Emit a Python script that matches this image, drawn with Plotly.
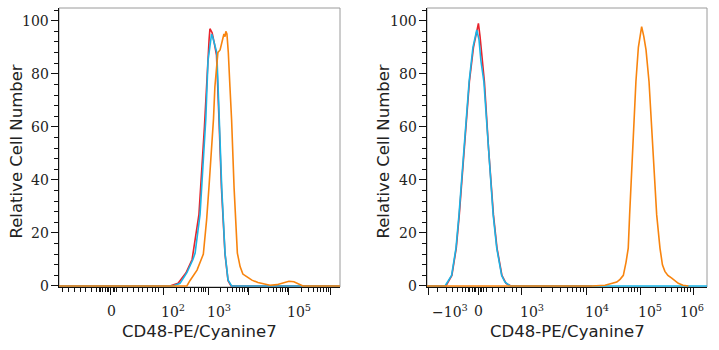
import numpy as np
import plotly.graph_objects as go

# ---------------- data (x in display channels 0-1024, y = relative cell number %) -------------
# Left panel
L_red_x = [0, 404, 434, 463, 485, 510, 530, 541, 547, 550, 554, 558, 565, 574, 583, 592, 605, 616, 627, 1024]
L_red_y = [0, 0, 1, 5, 10, 27, 60, 85, 93, 97, 96, 95.5, 92, 87, 63, 37, 12, 2, 0, 0]
L_blue_x = [0, 415, 441, 466, 488, 496, 514, 520, 532, 535, 543, 547, 552, 556, 561, 565, 575, 584, 593, 605, 616, 629, 1024]
L_blue_y = [0, 0, 1, 5, 10, 12.4, 27, 37, 60, 63, 85, 88, 92, 95, 93.5, 92, 88, 63, 37, 12.4, 2.3, 0, 0]
L_orange_x = [0, 466, 477, 503, 526, 538, 547, 556, 563, 568, 575, 579, 587, 594, 601, 605, 608, 612, 617, 623, 629,
              638, 650, 660, 670, 684, 703, 725, 743, 769, 794, 816, 838, 856, 875, 889, 1024]
L_orange_y = [0, 0, 2, 6, 12, 25, 38, 50, 63, 75, 86, 88, 89, 92, 95, 94, 96, 95, 88, 75, 62.6,
              37, 12.4, 7.3, 4.5, 3.5, 2.2, 1.3, 0.8, 0.3, 0.5, 1.2, 1.8, 1.6, 0.8, 0, 0]

# Right panel
R_red_x = [0, 69, 91, 107, 118, 136, 155, 170, 181, 188, 194, 201, 210, 225, 243, 256, 274, 289, 307, 603]
R_red_y = [0, 0, 4, 14.3, 26.8, 52, 77, 90, 95.5, 99, 94, 86, 77, 52, 26.8, 14.3, 4, 1, 0, 0]
R_blue_x = [0, 66, 90, 106, 117, 135, 154, 168, 182, 190, 197, 208, 224, 242, 255, 273, 285, 304, 1024]
R_blue_y = [0, 0, 4, 14.3, 26.8, 52, 77, 90, 96.5, 93, 85, 77, 52, 26.8, 14.3, 4, 1.5, 0, 0]
R_orange_x = [0, 602, 651, 681, 694, 706, 718, 728, 736, 741, 753, 764, 773, 785, 793, 801, 812, 826, 840, 852,
              861, 870, 881, 895, 907, 919, 936, 956]
R_orange_y = [0, 0, 0.3, 1, 1.5, 2.5, 4, 9, 14.3, 26.8, 52, 77, 90, 97.8, 94, 89, 77, 52, 26.8, 14.3,
              8, 5.5, 4, 3, 2, 1, 0.3, 0]

# Axis ticks (channel positions) and labels
L_major = [189, 379, 543, 692, 838, 988]          # 0, 1e2, 1e3, 1e4, 1e5, 1e6
L_lin_minor = [11, 33, 55, 77, 98, 117, 135, 146, 153, 160, 168, 175, 182, 197, 204, 211,
               233, 251, 270, 288, 306, 324, 339, 350, 361]
L_label_pos = [192, 415, 583, 875]
L_label_base = ["0", "10", "10", "10"]
L_label_exp = ["", "2", "3", "5"]

R_major = [5, 190, 346, 584, 779, 973]            # -1e3, 0, 1e3, 1e4, 1e5, 1e6
R_lin_minor = [40, 73, 95, 113, 128, 139, 150, 157, 165, 172, 179, 187, 194, 201, 208, 219,
               238, 260, 285, 311, 329]
R_label_pos = [84, 190, 384, 622, 815, 969]
R_label_base = ["\u221210", "0", "10", "10", "10", "10"]
R_label_exp = ["3", "", "3", "4", "5", "6"]

Y_TICKS = [0, 20, 40, 60, 80, 100]
Y_TITLE = "Relative Cell Number"
X_TITLE = "CD48-PE/Cyanine7"

RED, BLUE, ORANGE = "#e8232b", "#1ab4e6", "#f8840e"


def log_minors(majors_decades, upper=1024):
    out = []
    for a, b in zip(majors_decades[:-1], majors_decades[1:]):
        for k in range(2, 10):
            out.append(a + (b - a) * np.log10(k))
    step = majors_decades[-1] - majors_decades[-2]
    for k in range(2, 10):
        v = majors_decades[-1] + step * np.log10(k)
        if v <= upper:
            out.append(v)
    return out


def label(base, exp):
    if not exp:
        return base
    return base + "<sup>" + exp + "</sup>"


L_minor = L_lin_minor + log_minors(L_major[1:])
R_minor = R_lin_minor + log_minors(R_major[2:])

W, H = 719, 350
fig = go.Figure()

for xs, ys, col, ax in [
    (L_red_x, L_red_y, RED, ("x", "y")),
    (L_blue_x, L_blue_y, BLUE, ("x", "y")),
    (L_orange_x, L_orange_y, ORANGE, ("x", "y")),
    (R_red_x, R_red_y, RED, ("x2", "y2")),
    (R_blue_x, R_blue_y, BLUE, ("x2", "y2")),
    (R_orange_x, R_orange_y, ORANGE, ("x2", "y2")),
]:
    fig.add_trace(go.Scatter(x=xs, y=ys, mode="lines", line=dict(color=col, width=1.6),
                             xaxis=ax[0], yaxis=ax[1], showlegend=False, hoverinfo="skip"))


def px_x(p):
    return p / W


def px_y(p):
    return 1 - p / H


serif = dict(family="DejaVu Serif", size=14, color="#222")
sans = dict(family="DejaVu Sans", size=16.5, color="#222")

yd = [px_y(287), px_y(8)]
xaxis_common = dict(range=[0, 1024], showgrid=False, zeroline=False, showline=True, linecolor="#111",
                    linewidth=1.3, ticks="outside", ticklen=7, tickwidth=1.3, tickcolor="#111",
                    showticklabels=False, tickmode="array")
yaxis_common = dict(range=[-0.38, 104.8], showgrid=False, zeroline=False, showline=True, linecolor="#111",
                    linewidth=1.3, ticks="outside", ticklen=7, tickwidth=1.3, tickcolor="#111",
                    showticklabels=False, tickmode="array", tickvals=Y_TICKS,
                    minor=dict(ticks="outside", ticklen=4, tickwidth=1, tickcolor="#111", dtick=4, tick0=0),
                    domain=yd)

fig.update_layout(
    width=W, height=H, margin=dict(l=0, r=0, t=0, b=0),
    paper_bgcolor="white", plot_bgcolor="white",
    xaxis=dict(**xaxis_common, domain=[px_x(59), px_x(340)], anchor="y", tickvals=L_major,
               minor=dict(ticks="outside", ticklen=3.5, tickwidth=1, tickcolor="#111", tickmode="array",
                          tickvals=L_minor)),
    xaxis2=dict(**xaxis_common, domain=[px_x(427), px_x(707)], anchor="y2", tickvals=R_major,
                minor=dict(ticks="outside", ticklen=3.5, tickwidth=1, tickcolor="#111", tickmode="array",
                           tickvals=R_minor)),
    yaxis=dict(**yaxis_common, anchor="x"),
    yaxis2=dict(**yaxis_common, anchor="x2"),
)

# frame (gray)
for xr, yr in [("x domain", "y domain"), ("x2 domain", "y2 domain")]:
    fig.add_shape(type="rect", xref=xr, yref=yr, x0=0, x1=1, y0=0, y1=1,
                  line=dict(color="#9a9a9a", width=1), layer="below")

ann = []
for xr, yr in (("x domain", "y"), ("x2 domain", "y2")):
    for v in Y_TICKS:
        ann.append(dict(x=0, y=v, xref=xr, yref=yr, text=str(v), showarrow=False, xanchor="right",
                        yanchor="middle", xshift=-8, font=serif))
for pos, b, e in zip(L_label_pos, L_label_base, L_label_exp):
    ann.append(dict(x=pos, y=px_y(311), xref="x", yref="paper", text=label(b, e), showarrow=False,
                    xanchor="center", yanchor="middle", font=serif))
for pos, b, e in zip(R_label_pos, R_label_base, R_label_exp):
    ann.append(dict(x=pos, y=px_y(311), xref="x2", yref="paper", text=label(b, e), showarrow=False,
                    xanchor="center", yanchor="middle", font=serif))
for cx in (199, 567):
    ann.append(dict(x=px_x(cx), y=px_y(331), xref="paper", yref="paper", text=X_TITLE, showarrow=False,
                    xanchor="center", yanchor="middle", font=sans))
for cx in (15.5, 382.5):
    ann.append(dict(x=px_x(cx), y=px_y(152), xref="paper", yref="paper", text=Y_TITLE, showarrow=False,
                    xanchor="center", yanchor="middle", textangle=-90, font=sans))
fig.update_layout(annotations=ann)

fig.write_html("out.html")
